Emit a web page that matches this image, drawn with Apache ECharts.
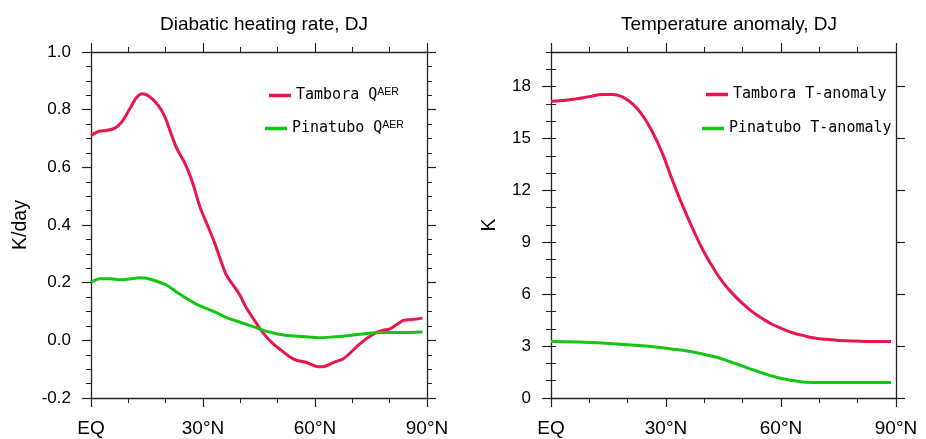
<!DOCTYPE html>
<html>
<head>
<meta charset="utf-8">
<script src="https://cdn.jsdelivr.net/npm/echarts@6/dist/echarts.min.js"></script>
<style>
  html, body { margin: 0; padding: 0; background: #fff; }
  #chart { width: 926px; height: 439px; }
</style>
</head>
<body>
<div id="chart"></div>
<script>
// 左图：非绝热加热率 (K/day)
const latTamboraQ = [0, 2.4, 4.2, 6.4, 8.2, 10.4, 12.2, 13.8, 15.8, 18, 19.8, 21.6, 23, 25.2, 27, 29.2, 31.4, 33.2, 34.6, 36.3, 38.1, 39.9, 41.7, 43.5, 45.3, 47, 48.8, 51, 53.3, 55.1, 57.3, 59.1, 60.9, 62.7, 64.9, 67.6, 69.4, 71.6, 73.8, 76.1, 78.3, 80.1, 81.9, 83.7, 85.9, 88.8];
const valTamboraQ = [0.711, 0.726, 0.728, 0.736, 0.757, 0.803, 0.842, 0.855, 0.844, 0.815, 0.775, 0.711, 0.665, 0.613, 0.555, 0.462, 0.393, 0.335, 0.283, 0.225, 0.191, 0.156, 0.110, 0.075, 0.040, 0.012, -0.012, -0.035, -0.058, -0.069, -0.075, -0.084, -0.092, -0.090, -0.077, -0.064, -0.044, -0.017, 0.006, 0.025, 0.035, 0.040, 0.055, 0.069, 0.072, 0.077];
const latPinatuboQ = [0, 2.4, 5.1, 7.8, 10.4, 13.1, 14.9, 17.6, 20.3, 22.9, 25.6, 28.3, 31.0, 33.7, 36.3, 39.0, 41.7, 44.4, 47.1, 49.7, 53.3, 56.9, 61.3, 64.9, 69.4, 73.8, 78.3, 82.8, 88.8];
const valPinatuboQ = [0.202, 0.214, 0.214, 0.210, 0.213, 0.217, 0.215, 0.205, 0.191, 0.168, 0.145, 0.125, 0.110, 0.095, 0.079, 0.067, 0.055, 0.043, 0.031, 0.023, 0.016, 0.013, 0.009, 0.012, 0.017, 0.024, 0.027, 0.027, 0.029];

// 右图：温度异常 (K)
const latTamboraT = [0, 3.0, 6.5, 10, 13.5, 16.1, 18.7, 21.3, 23.9, 26.5, 29.1, 31.7, 34.3, 37.0, 39.6, 42.2, 44.8, 47.4, 50, 52.6, 55.2, 57.8, 60.4, 63, 65.7, 68.3, 71.7, 75.2, 79.6, 83.9, 88.7];
const valTamboraT = [17.15, 17.19, 17.29, 17.42, 17.54, 17.54, 17.39, 17.0, 16.33, 15.36, 14.11, 12.57, 11.13, 9.78, 8.57, 7.57, 6.70, 6.03, 5.45, 4.97, 4.58, 4.25, 4.00, 3.77, 3.62, 3.48, 3.39, 3.33, 3.29, 3.27, 3.27];
const latPinatuboT = [0, 7.4, 16.1, 24.8, 30.9, 37, 43, 48.3, 52.6, 57, 60.4, 63.9, 68.3, 72.6, 81.3, 88.7];
const valPinatuboT = [3.27, 3.23, 3.14, 3.00, 2.85, 2.66, 2.37, 1.98, 1.64, 1.31, 1.12, 0.98, 0.90, 0.89, 0.89, 0.89];

// 刻度标签
const xTickLabels = ['EQ', '30°N', '60°N', '90°N'];
const yTickLabelsQ = ['-0.2', '0.0', '0.2', '0.4', '0.6', '0.8', '1.0'];
const yMajorTicksT = [0, 3, 6, 9, 12, 15, 18];

const RED = '#e8164b';
const GREEN = '#12c612';
const AXIS = '#222';

function pairs(xs, ys) {
    let out = [];
    for (let i = 0; i < xs.length; i++) {
        out.push([xs[i], ys[i]]);
    }
    return out;
}

let myChart = echarts.init(document.getElementById('chart'));

//x轴（底部带标签，顶部镜像）
function makeX(grid, pos, showLabel) {
    return {
        type: 'value', gridIndex: grid, position: pos,
        min: 0, max: 90, interval: 30,
        axisLine: { show: true, onZero: false, lineStyle: { color: AXIS, width: 1.3 } },
        axisTick: { show: true, inside: false, length: 9, lineStyle: { color: AXIS, width: 1.2 } },
        minorTick: { show: true, splitNumber: 3, length: 5, lineStyle: { color: AXIS, width: 1 } },
        splitLine: { show: false },
        axisLabel: {
            show: showLabel, margin: 21,
            color: '#000', fontFamily: 'Liberation Sans', fontSize: 19,
            formatter: function (v) { return xTickLabels[Math.round(v / 30)]; }
        }
    };
}

let option = {
    animation: false,
    title: [
        { text: 'Diabatic heating rate, DJ', left: 259, top: 10, textAlign: 'center',
          textStyle: { fontFamily: 'Liberation Sans', fontSize: 19, fontWeight: 'normal', color: '#000' } },
        { text: 'Temperature anomaly, DJ', left: 724, top: 10, textAlign: 'center',
          textStyle: { fontFamily: 'Liberation Sans', fontSize: 19, fontWeight: 'normal', color: '#000' } }
    ],
    legend: [
        { data: ['Tambora Q'], left: 264, top: 82 },
        { data: ['Pinatubo Q'], left: 260, top: 115 },
        { data: ['Tambora T-anomaly'], left: 701, top: 82 },
        { data: ['Pinatubo T-anomaly'], left: 697, top: 116 }
    ].map(function (l) {
        return Object.assign({
            icon: 'rect', itemWidth: 22, itemHeight: 3.5,
            selectedMode: false,
            formatter: function (name) {
                if (name.slice(-1) === 'Q') return '{n|' + name + '}{s|AER}';
                return '{n|' + name + '}';
            },
            textStyle: {
                rich: {
                    n: { fontFamily: 'DejaVu Sans Mono', fontSize: 15, color: '#000', lineHeight: 17 },
                    s: { fontFamily: 'Liberation Sans', fontSize: 10.5, color: '#000', verticalAlign: 'top', lineHeight: 8 }
                }
            }
        }, l);
    }),
    grid: [
        { left: 91, top: 52, width: 336, height: 346, outerBoundsMode: 'none' },
        { left: 551, top: 52, width: 345, height: 346, outerBoundsMode: 'none' }
    ],
    xAxis: [
        makeX(0, 'bottom', true),
        makeX(0, 'top', false),
        makeX(1, 'bottom', true),
        makeX(1, 'top', false)
    ],
    yAxis: [
        {
            type: 'value', gridIndex: 0, position: 'left',
            min: -0.2, max: 1.0, interval: 0.2,
            name: 'K/day', nameLocation: 'middle', nameRotate: 90, nameGap: 60,
            nameTextStyle: { fontFamily: 'Liberation Sans', fontSize: 19.5, color: '#000' },
            axisLine: { show: true, onZero: false, lineStyle: { color: AXIS, width: 1.3 } },
            axisTick: { show: true, inside: false, length: 9, lineStyle: { color: AXIS, width: 1.2 } },
            minorTick: { show: true, splitNumber: 4, length: 5, lineStyle: { color: AXIS, width: 1 } },
            splitLine: { show: false },
            axisLabel: {
                margin: 20, color: '#000', fontFamily: 'Liberation Sans', fontSize: 17,
                formatter: function (v) { return yTickLabelsQ[Math.round((v + 0.2) / 0.2)]; }
            }
        },
        {
            type: 'value', gridIndex: 0, position: 'right',
            min: -0.2, max: 1.0, interval: 0.2,
            axisLine: { show: true, onZero: false, lineStyle: { color: AXIS, width: 1.3 } },
            axisTick: { show: true, inside: false, length: 9, lineStyle: { color: AXIS, width: 1.2 } },
            minorTick: { show: true, splitNumber: 4, length: 5, lineStyle: { color: AXIS, width: 1 } },
            splitLine: { show: false },
            axisLabel: { show: false }
        },
        {
            type: 'value', gridIndex: 1, position: 'left',
            min: 0, max: 20, interval: 1,
            name: 'K', nameLocation: 'middle', nameRotate: 90, nameGap: 51,
            nameTextStyle: { fontFamily: 'Liberation Sans', fontSize: 19.5, color: '#000' },
            axisLine: { show: true, onZero: false, lineStyle: { color: AXIS, width: 1.3 } },
            axisTick: { show: true, inside: false, length: 9, customValues: yMajorTicksT, lineStyle: { color: AXIS, width: 1.2 } },
            splitLine: { show: false },
            axisLabel: {
                margin: 20, color: '#000', fontFamily: 'Liberation Sans', fontSize: 17,
                customValues: yMajorTicksT
            }
        },
        {
            type: 'value', gridIndex: 1, position: 'right',
            min: 0, max: 20, interval: 1,
            axisLine: { show: true, onZero: false, lineStyle: { color: AXIS, width: 1.3 } },
            axisTick: { show: true, inside: false, length: 9, customValues: yMajorTicksT, lineStyle: { color: AXIS, width: 1.2 } },
            splitLine: { show: false },
            axisLabel: { show: false }
        },
        //右图次刻度
        {
            type: 'value', gridIndex: 1, position: 'left',
            min: 0, max: 20, interval: 1,
            axisLine: { show: false },
            axisTick: { show: true, inside: false, length: 5, lineStyle: { color: AXIS, width: 1 } },
            splitLine: { show: false },
            axisLabel: { show: false }
        },
        {
            type: 'value', gridIndex: 1, position: 'right',
            min: 0, max: 20, interval: 1,
            axisLine: { show: false },
            axisTick: { show: true, inside: false, length: 5, lineStyle: { color: AXIS, width: 1 } },
            splitLine: { show: false },
            axisLabel: { show: false }
        }
    ],
    series: [
        { name: 'Tambora Q', type: 'line', xAxisIndex: 0, yAxisIndex: 0, data: pairs(latTamboraQ, valTamboraQ),
          smooth: 0.3, showSymbol: false, color: RED, lineStyle: { width: 3, color: RED } },
        { name: 'Pinatubo Q', type: 'line', xAxisIndex: 0, yAxisIndex: 0, data: pairs(latPinatuboQ, valPinatuboQ),
          smooth: 0.3, showSymbol: false, color: GREEN, lineStyle: { width: 3, color: GREEN } },
        { name: 'Tambora T-anomaly', type: 'line', xAxisIndex: 2, yAxisIndex: 2, data: pairs(latTamboraT, valTamboraT),
          smooth: true, showSymbol: false, color: RED, lineStyle: { width: 3, color: RED } },
        { name: 'Pinatubo T-anomaly', type: 'line', xAxisIndex: 2, yAxisIndex: 2, data: pairs(latPinatuboT, valPinatuboT),
          smooth: true, showSymbol: false, color: GREEN, lineStyle: { width: 3, color: GREEN } }
    ]
};

myChart.setOption(option);
</script>
</body>
</html>
